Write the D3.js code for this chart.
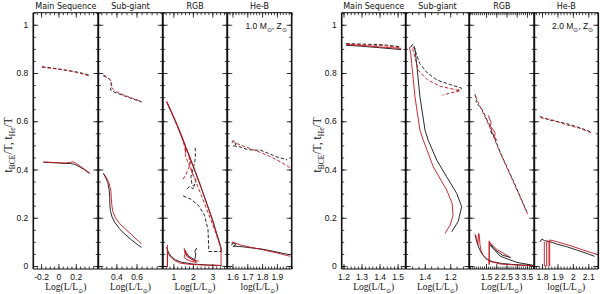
<!DOCTYPE html>
<html>
<head>
<meta charset="utf-8">
<script src="https://cdn.jsdelivr.net/npm/d3@7"></script>
<style>
body { margin: 0; background: #fff; }
</style>
</head>
<body>
<div id="chart"></div>
<script>
//Panel titles and axis texts
var panelTitles = ["Main Sequence", "Sub-giant", "RGB", "He-B"];
var xLabelWord = ["Log", "Log", "Log", "log"];
var yTickValues = [0, 0.2, 0.4, 0.6, 0.8, 1];
var yTickLabels = ["0", "0.2", "0.4", "0.6", "0.8", "1"];

//x tick labels for each panel
var m1TickValues = [[-0.2, 0, 0.2], [0.4, 0.6], [1, 2, 3], [1.6, 1.7, 1.8, 1.9]];
var m2TickValues = [[1.2, 1.3, 1.4, 1.5], [1.4, 1.2], [1.5, 2, 2.5, 3, 3.5], [1.8, 1.9, 2, 2.1]];

//---------------- 1.0 Msun data  [logL, t/T] ----------------
//Main sequence
var m1MsDashBlack = [[-0.19,0.826],[-0.1,0.822],[0,0.817],[0.1,0.811],[0.2,0.805],[0.3,0.797],[0.37,0.789]];
var m1MsDashRed = [[-0.19,0.824],[-0.1,0.820],[0,0.816],[0.1,0.810],[0.2,0.803],[0.3,0.794],[0.37,0.786]];
var m1MsSolidBlack = [[-0.175,0.430],[-0.1,0.429],[0,0.427],[0.08,0.425],[0.14,0.425],[0.19,0.421],[0.25,0.410],[0.30,0.399],[0.36,0.383]];
var m1MsSolidRed = [[-0.175,0.431],[-0.1,0.430],[0,0.428],[0.08,0.427],[0.13,0.429],[0.17,0.432],[0.2,0.426],[0.25,0.414],[0.3,0.401],[0.36,0.386]];
//Sub-giant
var m1SgDashBlack = [[0.27,0.791],[0.30,0.785],[0.33,0.775],[0.345,0.765],[0.35,0.745],[0.34,0.73],[0.36,0.725],[0.4,0.717],[0.48,0.705],[0.56,0.693],[0.65,0.68]];
var m1SgDashRed = [[0.27,0.787],[0.30,0.782],[0.325,0.777],[0.34,0.77],[0.355,0.752],[0.345,0.742],[0.365,0.735],[0.4,0.722],[0.48,0.708],[0.56,0.695],[0.65,0.682]];
var m1SgSolidBlack = [[0.27,0.384],[0.295,0.365],[0.315,0.345],[0.328,0.315],[0.333,0.285],[0.335,0.255],[0.34,0.23],[0.355,0.205],[0.385,0.18],[0.43,0.155],[0.47,0.137],[0.55,0.108],[0.62,0.085],[0.65,0.077]];
var m1SgSolidRed = [[0.275,0.383],[0.305,0.362],[0.33,0.34],[0.345,0.31],[0.35,0.28],[0.355,0.25],[0.365,0.225],[0.39,0.2],[0.43,0.177],[0.48,0.157],[0.55,0.13],[0.62,0.103],[0.65,0.091]];
//RGB
var m1RgbSolidRed = [[0.66,0.683],[0.9,0.64],[1.2,0.585],[1.45,0.535],[1.6,0.503],[1.63,0.47],[1.66,0.49],[2.0,0.42],[2.37,0.34],[3.0,0.19],[3.45,0.07],[3.45,0.0]];
var m1RgbSolidBlack = [[0.66,0.678],[0.9,0.636],[1.2,0.58],[1.45,0.53],[1.65,0.49],[2.0,0.415],[2.4,0.33],[3.0,0.195],[3.45,0.075],[3.45,0.06]];
var m1RgbDashRed = [[0.66,0.68],[1.0,0.62],[1.4,0.54],[1.6,0.49],[1.62,0.45],[1.7,0.44],[2.0,0.38],[2.5,0.28],[3.0,0.175],[3.4,0.09]];
var m1RgbDashBlack = [[1.5,0.29],[1.9,0.277],[2.3,0.25],[2.6,0.21],[2.78,0.15],[2.82,0.06],[3.46,0.06]];
var m1RgbTangleBlack = [[2.12,0.49],[2.13,0.46],[2.1,0.43],[2.0,0.4],[1.9,0.37],[1.95,0.34],[2.05,0.33],[2.15,0.35]];
var m1RgbTangleRed = [[1.5,0.36],[1.65,0.38],[1.8,0.41],[1.9,0.44],[1.8,0.46],[1.85,0.42],[2.0,0.38],[2.2,0.35]];
var m1RgbTangleBlack2 = [[1.7,0.32],[1.85,0.33],[2.0,0.32],[2.1,0.34]];
var m1RgbLowRed = [[0.69,0.088],[0.69,-0.004],[0.7,0.062],[0.78,0.046],[0.9,0.033],[1.1,0.021],[1.34,0.012],[1.8,0.007],[2.5,0.004],[3.46,0.002]];
var m1RgbLowBlack = [[0.65,0.078],[0.75,0.055],[0.9,0.038],[1.1,0.026],[1.4,0.016],[2.0,0.008],[2.8,0.004],[3.46,0.002]];
var m1RgbLoopRed = [[1.55,0.075],[1.6,0.05],[1.55,0.035],[1.7,0.026],[1.95,0.018],[2.2,0.015],[1.9,0.03],[1.65,0.045],[1.62,0.065],[1.7,0.04],[2.0,0.025],[2.3,0.02]];
var m1RgbLoopBlack = [[1.6,0.06],[1.8,0.04],[2.1,0.025],[2.15,0.05],[2.1,0.06],[2.2,0.075]];
//He burning
var m1HebDashBlack = [[1.595,0.51],[1.61,0.52],[1.625,0.505],[1.605,0.498],[1.65,0.494],[1.7,0.483],[1.75,0.48],[1.79,0.48],[1.85,0.465],[1.9,0.452],[1.97,0.44]];
var m1HebDashRed = [[1.597,0.52],[1.62,0.51],[1.66,0.50],[1.72,0.487],[1.8,0.468],[1.86,0.452],[1.93,0.43],[1.99,0.407]];
var m1HebSolidBlack = [[1.595,0.085],[1.60,0.096],[1.625,0.09],[1.605,0.082],[1.65,0.081],[1.7,0.077],[1.8,0.07],[1.9,0.058],[1.99,0.046]];
var m1HebSolidRed = [[1.595,0.1],[1.62,0.095],[1.66,0.086],[1.72,0.078],[1.8,0.068],[1.9,0.054],[1.99,0.04]];

//---------------- 2.0 Msun data ----------------
var m2MsDashBlack = [[1.215,0.922],[1.3,0.92],[1.42,0.917],[1.52,0.908]];
var m2MsDashRed = [[1.215,0.92],[1.3,0.917],[1.42,0.914],[1.52,0.905]];
var m2MsSolidBlack = [[1.215,0.915],[1.3,0.911],[1.4,0.905],[1.52,0.897]];
var m2MsSolidRed = [[1.215,0.918],[1.3,0.914],[1.4,0.908],[1.52,0.902]];

var m2SgDashBlack = [[1.51,0.91],[1.49,0.92],[1.47,0.885],[1.44,0.84],[1.38,0.80],[1.3,0.77],[1.2,0.752],[1.11,0.737],[1.15,0.725]];
var m2SgDashRed = [[1.52,0.905],[1.5,0.912],[1.48,0.87],[1.45,0.81],[1.38,0.772],[1.28,0.745],[1.15,0.73],[1.12,0.727],[1.2,0.717],[1.26,0.708]];
var m2SgSolidBlack = [[1.49,0.905],[1.478,0.903],[1.464,0.84],[1.438,0.701],[1.398,0.563],[1.372,0.52],[1.306,0.439],[1.228,0.37],[1.149,0.301],[1.11,0.246],[1.137,0.185],[1.188,0.142]];
var m2SgSolidRed = [[1.52,0.905],[1.51,0.88],[1.503,0.839],[1.477,0.701],[1.438,0.563],[1.412,0.522],[1.333,0.411],[1.228,0.315],[1.185,0.26],[1.178,0.21],[1.2,0.17],[1.241,0.135]];

var m2RgbDashBlack = [[0.95,0.712],[1.05,0.69],[1.0,0.68],[1.3,0.65],[1.7,0.578],[2.2,0.47],[2.8,0.36],[3.53,0.218]];
var m2RgbDashRed = [[0.97,0.705],[1.3,0.645],[1.7,0.572],[2.2,0.466],[2.8,0.355],[3.53,0.215]];
var m2RgbTangleRed = [[1.6,0.625],[1.75,0.595],[1.7,0.58],[1.85,0.565],[1.95,0.55],[1.9,0.535],[2.05,0.52]];
var m2RgbTangleBlack = [[1.72,0.56],[1.8,0.545]];
var m2RgbLowBlack = [[0.96,0.13],[1.05,0.1],[1.15,0.075],[1.3,0.05],[1.5,0.03],[1.8,0.018],[2.3,0.01],[3.0,0.005],[3.8,0.002]];
var m2RgbLowRed = [[0.98,0.13],[1.05,0.11],[1.1,0.09],[1.13,0.135],[1.17,0.13],[1.2,0.09],[1.25,0.065],[1.35,0.045],[1.55,0.028],[1.65,0.02],[2.2,0.008],[3.0,0.004],[3.8,0.001]];
var m2RgbSpikeRed = [[1.65,0.105],[1.65,0.005],[1.66,0.10],[2.0,0.07],[2.7,0.035]];
var m2RgbSpikeBlack = [[1.65,0.1],[1.9,0.07],[2.3,0.045],[2.7,0.035]];
var m2RgbSpikeBlack2 = [[1.66,0.09],[2.2,0.04],[3.0,0.015],[3.8,0.003]];

var m2HebDashBlack = [[1.785,0.62],[1.85,0.605],[1.96,0.59],[2.05,0.572],[2.12,0.555]];
var m2HebDashRed = [[1.79,0.615],[1.87,0.605],[1.96,0.585],[2.05,0.57],[2.125,0.55]];
var m2HebSolidBlack = [[1.787,0.1],[1.80,0.112],[1.815,0.105],[1.84,0.103],[1.9,0.09],[1.96,0.08],[2.03,0.065],[2.1,0.05],[2.14,0.04]];
var m2HebSolidRed = [[1.815,0.10],[1.815,0.0],[1.83,0.0],[1.83,0.1],[1.845,0.1],[1.845,0.0],[1.85,0.0],[1.85,0.108],[1.9,0.1],[1.98,0.085],[2.05,0.07],[2.12,0.055],[2.16,0.048]];

//Colours
var black = "#111111";
var red = "#c4141e";

//Layout
var w = 600;
var h = 294;
var plotTop = 12.7;
var plotBottom = 269;
var m1Edges = [33.3, 98.3, 162.7, 227.3, 291.7];
var m2Edges = [341.7, 405.7, 469.3, 534.3, 598.3];
var m1Domains = [[-0.29, 0.46], [0.22, 0.86], [0.45, 3.77], [1.565, 2.0]];
var m2Domains = [[1.19, 1.545], [1.55, 1.05], [0.68, 3.86], [1.75, 2.165]];
var m1Minor = [0.05, 0.05, 0.2, 0.02];
var m2Minor = [0.02, 0.05, 0.1, 0.02];

//Series for every panel: [data, colour, dashed]
var m1Series = [
    [[m1MsSolidBlack, black, 0], [m1MsSolidRed, red, 0], [m1MsDashBlack, black, 1], [m1MsDashRed, red, 1]],
    [[m1SgSolidBlack, black, 0], [m1SgSolidRed, red, 0], [m1SgDashBlack, black, 1], [m1SgDashRed, red, 1]],
    [[m1RgbSolidBlack, black, 0], [m1RgbDashBlack, black, 1], [m1RgbTangleBlack, black, 1], [m1RgbTangleBlack2, black, 1],
     [m1RgbDashRed, red, 1], [m1RgbTangleRed, red, 1], [m1RgbSolidRed, red, 0],
     [m1RgbLowBlack, black, 0], [m1RgbLoopBlack, black, 0], [m1RgbLowRed, red, 0], [m1RgbLoopRed, red, 0]],
    [[m1HebSolidBlack, black, 0], [m1HebSolidRed, red, 0], [m1HebDashBlack, black, 1], [m1HebDashRed, red, 1]]
];
var m2Series = [
    [[m2MsSolidBlack, black, 0], [m2MsSolidRed, red, 0], [m2MsDashBlack, black, 1], [m2MsDashRed, red, 1]],
    [[m2SgSolidBlack, black, 0], [m2SgSolidRed, red, 0], [m2SgDashBlack, black, 1], [m2SgDashRed, red, 1]],
    [[m2RgbDashBlack, black, 1], [m2RgbDashRed, red, 1], [m2RgbTangleRed, red, 0], [m2RgbTangleBlack, black, 1],
     [m2RgbLowBlack, black, 0], [m2RgbSpikeBlack, black, 0], [m2RgbSpikeBlack2, black, 0], [m2RgbLowRed, red, 0], [m2RgbSpikeRed, red, 0]],
    [[m2HebSolidBlack, black, 0], [m2HebSolidRed, red, 0], [m2HebDashBlack, black, 1], [m2HebDashRed, red, 1]]
];

var numFont = "Liberation Sans, Arial, sans-serif";
var serifFont = "Liberation Serif, DejaVu Serif, serif";

var yscale = d3.scaleLinear()
                .domain([-0.0125, 1.05])
                .range([plotBottom, plotTop]);

var svg = d3.select("#chart")
            .append("svg")
            .attr("width", w)
            .attr("height", h)
            .style("background", "#fff");

//Tick values every 'step' inside a domain (works for reversed domains too)
function stepTicks(dom, step)
{
    var lo = Math.min(dom[0], dom[1]), hi = Math.max(dom[0], dom[1]);
    var out = [];
    for (var i = Math.ceil(lo / step - 1e-6); i * step <= hi + 1e-9; i++)
    {
        out.push(+(i * step).toFixed(4));
    }
    return out;
}

//Adds a "<word>(L/L⊙)" style label with subscript
function sunText(g, parts, x, y, size, anchor)
{
    var t = g.append("text")
        .attr("x", x)
        .attr("y", y)
        .attr("text-anchor", anchor)
        .attr("font-family", serifFont)
        .attr("font-size", size)
        .attr("fill", "#111");
    parts.forEach(function(p)
    {
        t.append("tspan")
            .attr("dy", p[1])
            .attr("font-size", p[1] > 0 ? size * 0.65 : null)
            .text(p[0]);
    });
    return t;
}

function drawFigure(id, edges, domains, minorSteps, tickVals, series, massLabel)
{
    var yMinor = stepTicks([0, 1.05], 0.05);

    for (var p = 0; p < 4; p++)
    {
        var x0 = edges[p], x1 = edges[p + 1];
        var xscale = d3.scaleLinear().domain(domains[p]).range([x0, x1]);
        var g = svg.append("g");

        //clip so curves stay in their panel
        g.append("clipPath")
            .attr("id", "clip" + id + p)
            .append("rect")
            .attr("x", x0).attr("y", plotTop)
            .attr("width", x1 - x0).attr("height", plotBottom - plotTop);

        //minor ticks, all four sides
        var xMinor = stepTicks(domains[p], minorSteps[p]);
        var axes = [
            [d3.axisBottom(xscale).tickValues(xMinor).tickSize(-2.5).tickFormat(""), "translate(0," + plotBottom + ")"],
            [d3.axisTop(xscale).tickValues(xMinor).tickSize(-2.5).tickFormat(""), "translate(0," + plotTop + ")"],
            [d3.axisTop(xscale).tickValues(tickVals[p]).tickSize(-5).tickFormat(""), "translate(0," + plotTop + ")"],
            [d3.axisLeft(yscale).tickValues(yMinor).tickSize(-2.5).tickFormat(""), "translate(" + x0 + ",0)"],
            [d3.axisRight(yscale).tickValues(yMinor).tickSize(-2.5).tickFormat(""), "translate(" + x1 + ",0)"],
            [d3.axisLeft(yscale).tickValues(yTickValues).tickSize(-5).tickFormat(""), "translate(" + x0 + ",0)"],
            [d3.axisRight(yscale).tickValues(yTickValues).tickSize(-5).tickFormat(""), "translate(" + x1 + ",0)"]
        ];
        axes.forEach(function(a)
        {
            var ag = g.append("g").attr("transform", a[1]).call(a[0]);
            ag.select(".domain").remove();
            ag.selectAll("line").attr("stroke", "#111").attr("stroke-width", 0.8);
        });

        //major bottom ticks with labels
        var bx = g.append("g")
            .attr("transform", "translate(0," + plotBottom + ")")
            .call(d3.axisBottom(xscale).tickValues(tickVals[p]).tickSize(-5).tickPadding(5)
                    .tickFormat(function(d) { return String(d); }));
        bx.select(".domain").remove();
        bx.selectAll("line").attr("stroke", "#111").attr("stroke-width", 0.8);
        bx.selectAll("text").attr("font-family", numFont).attr("font-size", 8.5).attr("fill", "#111");

        //y labels only on the first panel
        if (p == 0)
        {
            var ly = g.append("g")
                .attr("transform", "translate(" + x0 + ",0)")
                .call(d3.axisLeft(yscale).tickValues(yTickValues).tickSize(0).tickPadding(5)
                        .tickFormat(function(d, i) { return yTickLabels[i]; }));
            ly.select(".domain").remove();
            ly.selectAll("text").attr("font-family", numFont).attr("font-size", 8.5).attr("fill", "#111");
        }

        //curves
        var line = d3.line()
                    .x(function(d) { return xscale(d[0]); })
                    .y(function(d) { return yscale(d[1]); });
        var cg = g.append("g").attr("clip-path", "url(#clip" + id + p + ")");
        series[p].forEach(function(s)
        {
            cg.append("path")
                .attr("d", line(s[0]))
                .attr("fill", "none")
                .attr("stroke", s[1])
                .attr("stroke-width", 0.9)
                .attr("stroke-dasharray", s[2] ? "3.5,2" : null);
        });

        //frame
        g.append("line").attr("x1", x0).attr("x2", x1).attr("y1", plotTop).attr("y2", plotTop)
            .attr("stroke", "#111").attr("stroke-width", 1);
        g.append("line").attr("x1", x0).attr("x2", x1).attr("y1", plotBottom).attr("y2", plotBottom)
            .attr("stroke", "#111").attr("stroke-width", 1);
        [x0, x1].forEach(function(xx)
        {
            g.append("line").attr("x1", xx).attr("x2", xx).attr("y1", plotTop).attr("y2", plotBottom)
                .attr("stroke", "#111").attr("stroke-width", 1.6);
        });

        //panel title
        g.append("text")
            .attr("x", (x0 + x1) / 2)
            .attr("y", 8.5)
            .attr("text-anchor", "middle")
            .attr("font-family", "DejaVu Sans, sans-serif")
            .attr("font-size", 8)
            .attr("fill", "#111")
            .text(panelTitles[p]);

        //x axis title
        sunText(g, [[xLabelWord[p] + "(L/L", 0], ["\u2299", 2.5], [")", -2.5]],
                (x0 + x1) / 2, 290, 9.5, "middle");
    }

    //mass label in the He-B panel
    sunText(svg, [[massLabel + " M", 0], ["\u2299", 2.5], [", Z", -2.5], ["\u2299", 2.5]],
            edges[4] - 5, 29, 8.5, "end").attr("font-family", numFont);

    //y axis title
    var yt = svg.append("text")
        .attr("transform", "translate(" + (edges[0] - 21) + "," + ((plotTop + plotBottom) / 2 + 4) + ") rotate(-90)")
        .attr("text-anchor", "middle")
        .attr("font-family", serifFont)
        .attr("font-size", 11.5)
        .attr("fill", "#111");
    [["t", 0], ["BCE", 3], ["/T, t", -3], ["He", 3], ["/T", -3]].forEach(function(q)
    {
        yt.append("tspan").attr("dy", q[1]).attr("font-size", q[1] > 0 ? 7.5 : null).text(q[0]);
    });
}

drawFigure("a", m1Edges, m1Domains, m1Minor, m1TickValues, m1Series, "1.0");
drawFigure("b", m2Edges, m2Domains, m2Minor, m2TickValues, m2Series, "2.0");
</script>
</body>
</html>
